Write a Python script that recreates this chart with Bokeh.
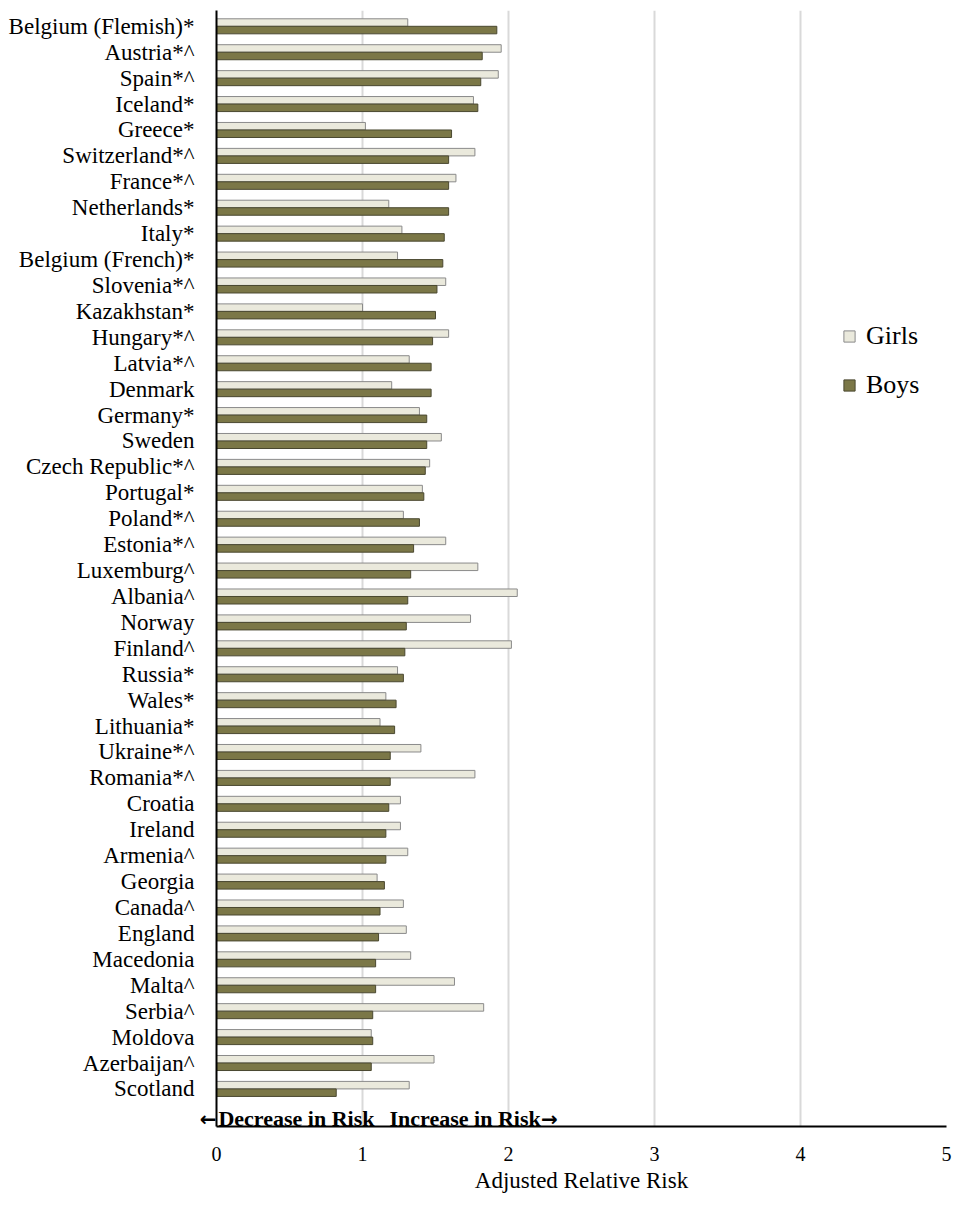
from bokeh.plotting import figure
from bokeh.models import Range1d, FixedTicker, Label, Legend, LegendItem, ColumnDataSource, LinearAxis
from bokeh.embed import file_html
from bokeh.resources import INLINE

countries = ["Belgium (Flemish)*", "Austria*^", "Spain*^", "Iceland*", "Greece*", "Switzerland*^",
             "France*^", "Netherlands*", "Italy*", "Belgium (French)*", "Slovenia*^", "Kazakhstan*",
             "Hungary*^", "Latvia*^", "Denmark", "Germany*", "Sweden", "Czech Republic*^", "Portugal*",
             "Poland*^", "Estonia*^", "Luxemburg^", "Albania^", "Norway", "Finland^", "Russia*", "Wales*",
             "Lithuania*", "Ukraine*^", "Romania*^", "Croatia", "Ireland", "Armenia^", "Georgia", "Canada^",
             "England", "Macedonia", "Malta^", "Serbia^", "Moldova", "Azerbaijan^", "Scotland"]

girls = [1.31, 1.95, 1.93, 1.76, 1.02, 1.77, 1.64, 1.18, 1.27, 1.24, 1.57, 1.00, 1.59, 1.32,
         1.20, 1.39, 1.54, 1.46, 1.41, 1.28, 1.57, 1.79, 2.06, 1.74, 2.02, 1.24, 1.16, 1.12,
         1.40, 1.77, 1.26, 1.26, 1.31, 1.10, 1.28, 1.30, 1.33, 1.63, 1.83, 1.06, 1.49, 1.32]

boys = [1.92, 1.82, 1.81, 1.79, 1.61, 1.59, 1.59, 1.59, 1.56, 1.55, 1.51, 1.50, 1.48, 1.47,
        1.47, 1.44, 1.44, 1.43, 1.42, 1.39, 1.35, 1.33, 1.31, 1.30, 1.29, 1.28, 1.23, 1.22,
        1.19, 1.19, 1.18, 1.16, 1.16, 1.15, 1.12, 1.11, 1.09, 1.09, 1.07, 1.07, 1.06, 0.82]

x_ticks = [0, 1, 2, 3, 4, 5]
series_names = ["Girls", "Boys"]

FONT = "Liberation Serif"

idx = list(range(len(countries)))
ay = len(countries) + 0.15  # row of the risk annotation

p = figure(width=952, height=1200, output_backend="svg", toolbar_location=None,
           x_range=Range1d(0, 5), y_range=Range1d(len(countries) + 0.45, -0.61),
           min_border_left=216, min_border_right=6, min_border_top=10, min_border_bottom=74)
p.outline_line_color = None
p.background_fill_color = "white"
p.border_fill_color = "white"

src_g = ColumnDataSource(dict(y=[i - 0.145 for i in idx], v=girls))
src_b = ColumnDataSource(dict(y=[i + 0.145 for i in idx], v=boys))

rg = p.hbar(y="y", left=0, right="v", height=0.29, source=src_g,
            fill_color="#EAE9DC", line_color="#8A8A8A", line_width=1)
rb = p.hbar(y="y", left=0, right="v", height=0.29, source=src_b,
            fill_color="#7B7747", line_color="#4A4830", line_width=1)

# country axis (outer)
country_axis = p.yaxis[0]
country_axis.ticker = FixedTicker(ticks=idx)
country_axis.major_label_overrides = {i: c for i, c in zip(idx, countries)}
country_axis.axis_line_color = None
country_axis.major_tick_line_color = None
country_axis.minor_tick_line_color = None
country_axis.major_tick_out = 0
country_axis.major_label_text_font = FONT
country_axis.major_label_text_font_size = "23px"
country_axis.major_label_text_color = "black"
country_axis.major_label_standoff = 2

# inner axis: visible axis line + left arrow of the annotation
arrow_axis = LinearAxis(ticker=FixedTicker(ticks=[ay]), major_label_overrides={ay: "\u2190"},
                        axis_line_color="black", axis_line_width=2,
                        major_tick_line_color=None, minor_tick_line_color=None,
                        major_tick_out=0, major_label_standoff=0,
                        major_label_text_font="DejaVu Sans", major_label_text_font_style="bold",
                        major_label_text_font_size="20px", major_label_text_color="black")
p.left = [arrow_axis, country_axis]
p.ygrid.visible = False

# x axis
p.xaxis.ticker = FixedTicker(ticks=x_ticks)
p.xaxis.axis_line_color = "black"
p.xaxis.axis_line_width = 2
p.xaxis.major_tick_line_color = None
p.xaxis.minor_tick_line_color = None
p.xaxis.major_tick_out = 0
p.xaxis.major_label_text_font = FONT
p.xaxis.major_label_text_font_size = "20px"
p.xaxis.major_label_text_color = "black"
p.xaxis.major_label_standoff = 20
p.xaxis.axis_label = "Adjusted Relative Risk"
p.xaxis.axis_label_text_font = FONT
p.xaxis.axis_label_text_font_size = "23px"
p.xaxis.axis_label_text_font_style = "normal"
p.xaxis.axis_label_text_color = "black"
p.xaxis.axis_label_standoff = 4
p.xgrid.ticker = FixedTicker(ticks=x_ticks[1:])
p.xgrid.grid_line_color = "#D9D9D9"
p.xgrid.grid_line_width = 2

# risk annotations
common = dict(y=ay, text_baseline="middle", text_font_style="bold", text_color="black")
p.add_layout(Label(x=1.082, text="Decrease in Risk", text_align="right", text_font=FONT,
                   text_font_size="22px", **common))
p.add_layout(Label(x=1.185, text="Increase in Risk", text_align="left", text_font=FONT,
                   text_font_size="22px", **common))
p.add_layout(Label(x=2.222, text="\u2192", text_align="left", text_font="DejaVu Sans",
                   text_font_size="20px", **common))

legend = Legend(items=[LegendItem(label=series_names[0], renderers=[rg]),
                       LegendItem(label=series_names[1], renderers=[rb])],
                location=(626, 726), orientation="vertical")
legend.border_line_color = None
legend.background_fill_alpha = 0
legend.padding = 0
legend.margin = 0
legend.spacing = 19
legend.glyph_width = 14
legend.glyph_height = 14
legend.label_standoff = 10
legend.label_text_font = FONT
legend.label_text_font_size = "26px"
legend.label_text_color = "black"
p.add_layout(legend, "center")

open("out.html", "w").write(file_html(p, INLINE))
